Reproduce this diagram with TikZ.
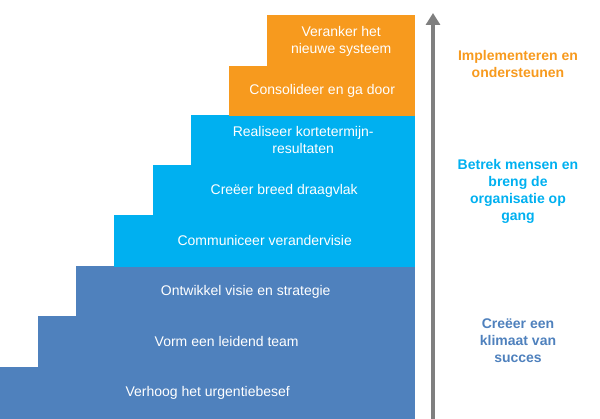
\documentclass[tikz,border=0pt]{standalone}
\usepackage{fontspec}
\setmainfont{Liberation Sans}
\usetikzlibrary{arrows.meta}
\definecolor{dblue}{HTML}{4F81BD}
\definecolor{lblue}{HTML}{00B0F0}
\definecolor{orng}{HTML}{F79A1E}
\definecolor{arr}{HTML}{7F7F7F}
\begin{document}
\begin{tikzpicture}[x=1pt,y=-1pt,
  stepbox/.style={draw=none,inner sep=0pt,anchor=north west},
  steptext/.style={text=white,font=\fontsize{14}{17}\selectfont,align=center},
  side/.style={font=\bfseries\fontsize{14}{17}\selectfont,align=center}]
\useasboundingbox (0,0) rectangle (600,419);
\newcommand\stp[6]{\node[stepbox,fill=#5,minimum width={415-#2},minimum height={#4-#3}] (#1) at (#2,#3) {};
  \node[steptext] (#1t) at (#1.center) {#6};}
\stp{s1}{0}{367}{419}{dblue}{Verhoog het urgentiebesef}
\stp{s2}{38}{316}{367.5}{dblue}{Vorm een leidend team}
\stp{s3}{76}{266}{316.5}{dblue}{Ontwikkel visie en strategie}
\stp{s4}{114}{215}{266.5}{lblue}{Communiceer verandervisie}
\stp{s5}{153}{165}{215.5}{lblue}{Creëer breed draagvlak}
\stp{s6}{191}{115}{165.5}{lblue}{Realiseer kortetermijn-\\resultaten}
\stp{s7}{229}{66}{115.5}{orng}{Consolideer en ga door}
\stp{s8}{267}{15}{66.5}{orng}{Veranker het\\nieuwe systeem}
\coordinate (a0) at (433,419);
\coordinate (a1) at (433,13);
\draw[arr,line width=4pt,-{Triangle[length=12pt,width=14pt]}] (a0) -- (a1);
\node[side,text=orng] (l1) at (518,64) {Implementeren en\\ondersteunen};
\node[side,text=lblue] (l2) at (518,191) {Betrek mensen en\\breng de\\organisatie op\\gang};
\node[side,text=dblue] (l3) at (518,341) {Creëer een\\klimaat van\\succes};
\end{tikzpicture}
\end{document}
